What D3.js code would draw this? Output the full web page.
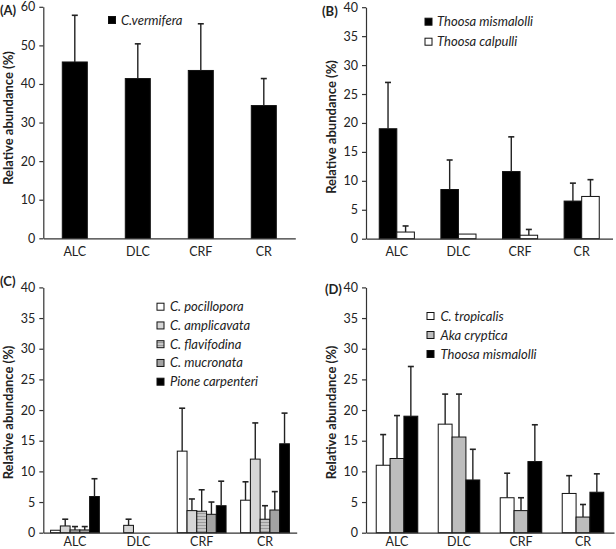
<!DOCTYPE html>
<html>
<head>
<meta charset="utf-8">
<script src="https://cdn.jsdelivr.net/npm/d3@7"></script>
<style>
  html, body { margin: 0; padding: 0; background: #fff; }
  svg { display: block; }
  text { font-family: Lato, "Open Sans", sans-serif; fill: #222; }
</style>
</head>
<body>
<svg id="chart" width="616" height="549"></svg>
<script>
// ---------- DATA ----------
const sites = ["ALC", "DLC", "CRF", "CR"];

// Panel A
const seriesA = ["C.vermifera"];
const meanA_vermifera = [45.7, 41.4, 43.5, 34.4];
const sdA_vermifera   = [12.1, 9.0, 12.1, 7.0];
const ticksA = [0, 10, 20, 30, 40, 50, 60];

// Panel B
const seriesB = ["Thoosa mismalolli", "Thoosa calpulli"];
const meanB_mismalolli = [19.0, 8.5, 11.6, 6.5];
const sdB_mismalolli   = [8.0, 5.1, 6.0, 3.1];
const meanB_calpulli   = [1.15, 0.8, 0.6, 7.3];
const sdB_calpulli     = [1.05, 0, 1.0, 2.9];
const ticks40 = [0, 5, 10, 15, 20, 25, 30, 35, 40];

// Panel C
const seriesC = ["C. pocillopora", "C. amplicavata", "C. flavifodina", "C. mucronata", "Pione carpenteri"];
const meanC_pocillopora = [0.4, 0, 13.3, 5.3];
const sdC_pocillopora   = [0, 0, 7.0, 3.0];
const meanC_amplicavata = [1.1, 1.2, 3.6, 12.0];
const sdC_amplicavata   = [1.1, 1.0, 1.9, 5.9];
const meanC_flavifodina = [0.45, 0, 3.5, 2.2];
const sdC_flavifodina   = [0.55, 0, 3.5, 2.2];
const meanC_mucronata   = [0.45, 0, 3.0, 3.7];
const sdC_mucronata     = [0.55, 0, 2.0, 3.0];
const meanC_carpenteri  = [5.9, 0, 4.4, 14.5];
const sdC_carpenteri    = [2.9, 0, 4.0, 5.0];

// Panel D
const seriesD = ["C. tropicalis", "Aka cryptica", "Thoosa mismalolli"];
const meanD_tropicalis  = [11.0, 17.7, 5.7, 6.4];
const sdD_tropicalis    = [5.0, 4.9, 4.0, 2.9];
const meanD_cryptica    = [12.1, 15.6, 3.6, 2.55];
const sdD_cryptica      = [7.0, 7.0, 2.1, 2.05];
const meanD_mismalolli  = [19.0, 8.6, 11.6, 6.6];
const sdD_mismalolli    = [8.1, 5.0, 6.0, 3.0];

// ---------- DRAWING ----------
const svg = d3.select("#chart");
const defs = svg.append("defs");
const pat = defs.append("pattern").attr("id", "stripes")
  .attr("patternUnits", "userSpaceOnUse").attr("width", 4).attr("height", 3);
pat.append("rect").attr("width", 4).attr("height", 3).attr("fill", "#9a9a9a");
pat.append("rect").attr("y", 1.5).attr("width", 4).attr("height", 1).attr("fill", "#f2f2f2");

function drawPanel(cfg) {
  const g = svg.append("g");
  const x = d3.scaleBand().domain(sites).range([cfg.x0, cfg.x1])
    .paddingInner(cfg.pad).paddingOuter(cfg.pad / 2);
  const xs = d3.scaleBand().domain(d3.range(cfg.series.length))
    .range([0, x.bandwidth()]);
  const y = d3.scaleLinear().domain([0, cfg.ymax]).range([cfg.y0, cfg.yTop]);

  // bars
  cfg.series.forEach((s, si) => {
    sites.forEach((site, i) => {
      const v = cfg.means[si][i];
      if (v <= 0) return;
      const bx = x(site) + xs(si);
      const bw = xs.bandwidth();
      g.append("rect")
        .attr("x", bx).attr("y", y(v))
        .attr("width", bw).attr("height", y(0) - y(v))
        .attr("fill", cfg.fills[si])
        .attr("stroke", "#111").attr("stroke-width", 1);
      const sd = cfg.sds[si][i];
      if (sd > 0) {
        const cx = bx + bw / 2;
        g.append("line").attr("x1", cx).attr("x2", cx)
          .attr("y1", y(v)).attr("y2", y(v + sd))
          .attr("stroke", "#222").attr("stroke-width", 1.4);
        g.append("line").attr("x1", cx - 3).attr("x2", cx + 3)
          .attr("y1", y(v + sd)).attr("y2", y(v + sd))
          .attr("stroke", "#222").attr("stroke-width", 1.6);
      }
    });
  });

  // y axis
  const ya = g.append("g").attr("transform", `translate(${cfg.x0},0)`)
    .call(d3.axisLeft(y).tickValues(cfg.ticks).tickSize(4).tickSizeOuter(0).tickPadding(4));
  ya.selectAll("text").style("font-size", "12.5px").attr("fill", "#222");
  ya.selectAll("line, path").attr("stroke", "#333").attr("stroke-width", 1.2);

  // x axis
  const xa = g.append("g").attr("transform", `translate(0,${cfg.y0})`)
    .call(d3.axisBottom(x).tickSize(0).tickPadding(cfg.xPad));
  xa.selectAll("text").style("font-size", "12.5px").attr("fill", "#222");
  xa.select("path").attr("stroke", "#333").attr("stroke-width", 1.2);

  // y title
  g.append("text")
    .attr("transform", `translate(${cfg.x0 - 35},${cfg.titleY}) rotate(-90)`)
    .attr("text-anchor", "middle").attr("dominant-baseline", "central")
    .style("font-size", "13px").style("font-weight", "bold")
    .text("Relative abundance (%)");

  // panel label
  g.append("text").attr("x", cfg.labX).attr("y", cfg.labY)
    .style("font-size", "13px").style("font-weight", "bold").text(cfg.label);

  // legend
  cfg.series.forEach((s, si) => {
    const cy = cfg.legY + si * cfg.legStep;
    g.append("rect").attr("x", cfg.legX).attr("y", cy - 3.5)
      .attr("width", 7).attr("height", 7)
      .attr("fill", cfg.fills[si]).attr("stroke", "#111").attr("stroke-width", 1);
    g.append("text").attr("x", cfg.legTextX).attr("y", cy + 4.5)
      .style("font-size", "13px").style("font-style", "italic").text(s);
  });
}

drawPanel({
  label: "(A)", labX: 0, labY: 15,
  x0: 43.3, x1: 295.3, y0: 238.3, yTop: 6.8, ymax: 60, ticks: ticksA, pad: 0.603,
  titleY: 118, xPad: 8.5,
  series: seriesA, means: [meanA_vermifera], sds: [sdA_vermifera], fills: ["#000"],
  legX: 108.5, legY: 20, legStep: 20, legTextX: 121
});

drawPanel({
  label: "(B)", labX: 322, labY: 16,
  x0: 366, x1: 612.5, y0: 238.7, yTop: 7.2, ymax: 40, ticks: ticks40, pad: 0.43,
  titleY: 127, xPad: 8.5,
  series: seriesB, means: [meanB_mismalolli, meanB_calpulli], sds: [sdB_mismalolli, sdB_calpulli],
  fills: ["#000", "#fff"],
  legX: 425, legY: 21.7, legStep: 20, legTextX: 437
});

drawPanel({
  label: "(C)", labX: 0, labY: 286,
  x0: 43.3, x1: 296.7, y0: 532.7, yTop: 287.4, ymax: 40, ticks: ticks40, pad: 0.23,
  titleY: 412.5, xPad: 4.5,
  series: seriesC,
  means: [meanC_pocillopora, meanC_amplicavata, meanC_flavifodina, meanC_mucronata, meanC_carpenteri],
  sds: [sdC_pocillopora, sdC_amplicavata, sdC_flavifodina, sdC_mucronata, sdC_carpenteri],
  fills: ["#fff", "#d6d6d6", "url(#stripes)", "#a3a3a3", "#000"],
  legX: 157, legY: 306.7, legStep: 18.75, legTextX: 170
});

drawPanel({
  label: "(D)", labX: 325, labY: 294,
  x0: 366, x1: 614, y0: 532.7, yTop: 287.4, ymax: 40, ticks: ticks40, pad: 0.33,
  titleY: 412.5, xPad: 4.5,
  series: seriesD,
  means: [meanD_tropicalis, meanD_cryptica, meanD_mismalolli],
  sds: [sdD_tropicalis, sdD_cryptica, sdD_mismalolli],
  fills: ["#fff", "#bdbdbd", "#000"],
  legX: 427, legY: 316, legStep: 19, legTextX: 440.5
});
</script>
</body>
</html>
